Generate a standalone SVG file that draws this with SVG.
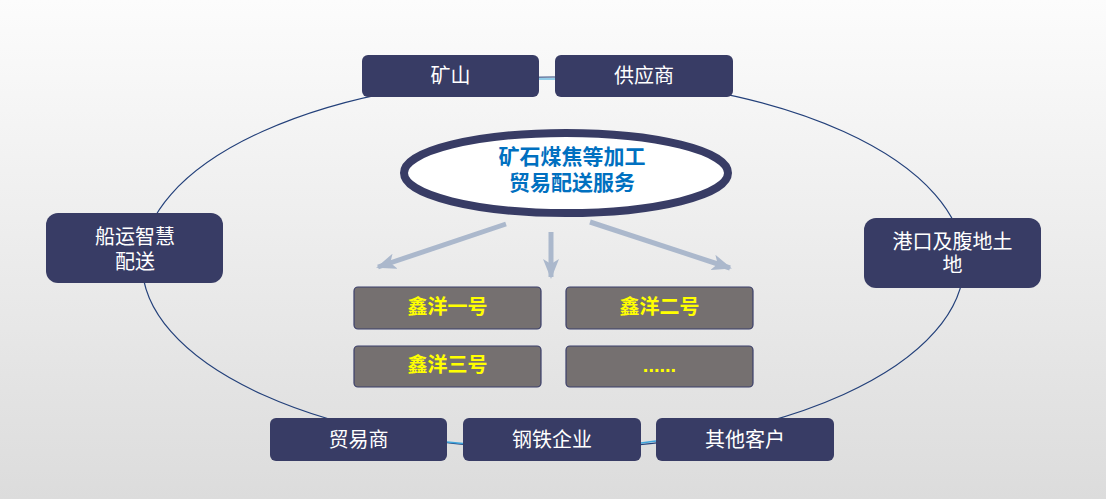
<svg xmlns="http://www.w3.org/2000/svg" width="1106" height="499" viewBox="0 0 1106 499">
<defs>
<linearGradient id="bg" x1="0" y1="0" x2="0" y2="1">
<stop offset="0" stop-color="#fcfcfc"/>
<stop offset="1" stop-color="#dcdcdc"/>
</linearGradient>
<marker id="ah" viewBox="0 0 20 16" refX="18" refY="8" markerWidth="20" markerHeight="16" markerUnits="userSpaceOnUse" orient="auto">
<path d="M0,0 L20,8 L0,16 L5,8 z" fill="#abb8cc"/>
</marker>
<style>
.nb{fill:#383c65;}
.gb{fill:#757070;stroke:#3b3f6a;stroke-width:1.2;}
.t{font-family:"Liberation Sans","Noto Sans CJK SC",sans-serif;font-size:20px;fill:#ffffff;text-anchor:middle;dominant-baseline:central;}
.y{font-family:"Liberation Sans","Noto Sans CJK SC",sans-serif;font-size:20px;font-weight:bold;fill:#ffff00;text-anchor:middle;dominant-baseline:central;}
.c{font-family:"Liberation Sans","Noto Sans CJK SC",sans-serif;font-size:21px;font-weight:bold;fill:#0070c0;text-anchor:middle;dominant-baseline:central;}
.arr{stroke:#abb8cc;stroke-width:5;fill:none;marker-end:url(#ah);}
</style>
</defs>
<rect width="1106" height="499" fill="url(#bg)"/>
<g id="connectors">
<ellipse cx="553" cy="263" rx="411" ry="186" fill="none" stroke="#23407a" stroke-width="1.2"/>
<path d="M539,79 L555,79" stroke="#4fb0e0" stroke-width="1.2"/>
<path d="M447,442 L463,443.5" stroke="#3fa5dc" stroke-width="1.5"/>
<path d="M641,443 L656,441" stroke="#3fa5dc" stroke-width="1.5"/>
<line class="arr" x1="506" y1="224" x2="378" y2="267"/>
<line class="arr" x1="551" y1="232" x2="551" y2="277"/>
<line class="arr" x1="590" y1="222" x2="730" y2="268"/>
</g>
<g id="n-kuangshan">
<rect class="nb" x="362" y="55" width="177" height="42" rx="6"/>
<text class="t" x="450.5" y="76">矿山</text>
</g>
<g id="n-gongyingshang">
<rect class="nb" x="555" y="55" width="178" height="42" rx="6"/>
<text class="t" x="644" y="76">供应商</text>
</g>
<g id="n-chuanyun">
<rect class="nb" x="46" y="213" width="177" height="70" rx="12"/>
<text class="t" x="135" y="237">船运智慧</text>
<text class="t" x="135" y="262">配送</text>
</g>
<g id="n-gangkou">
<rect class="nb" x="864" y="218" width="177" height="70" rx="12"/>
<text class="t" x="952.5" y="242">港口及腹地土</text>
<text class="t" x="952.5" y="265">地</text>
</g>
<g id="n-center">
<ellipse cx="566" cy="173" rx="162" ry="40" fill="#ffffff" stroke="#383c65" stroke-width="8"/>
<text class="c" x="572" y="156">矿石煤焦等加工</text>
<text class="c" x="572" y="182">贸易配送服务</text>
</g>
<g id="n-xy1">
<rect class="gb" x="354" y="287" width="187" height="42" rx="4"/>
<text class="y" x="447.5" y="307">鑫洋一号</text>
</g>
<g id="n-xy2">
<rect class="gb" x="566" y="287" width="187" height="42" rx="4"/>
<text class="y" x="659.5" y="307">鑫洋二号</text>
</g>
<g id="n-xy3">
<rect class="gb" x="354" y="346" width="187" height="41" rx="4"/>
<text class="y" x="447.5" y="365">鑫洋三号</text>
</g>
<g id="n-more">
<rect class="gb" x="566" y="346" width="187" height="41" rx="4"/>
<text class="y" x="659.5" y="365">......</text>
</g>
<g id="n-maoyishang">
<rect class="nb" x="270" y="418" width="177" height="43" rx="6"/>
<text class="t" x="358.5" y="440">贸易商</text>
</g>
<g id="n-gangtie">
<rect class="nb" x="463" y="418" width="178" height="43" rx="6"/>
<text class="t" x="552" y="440">钢铁企业</text>
</g>
<g id="n-qita">
<rect class="nb" x="656" y="418" width="178" height="43" rx="6"/>
<text class="t" x="745" y="440">其他客户</text>
</g>
</svg>
